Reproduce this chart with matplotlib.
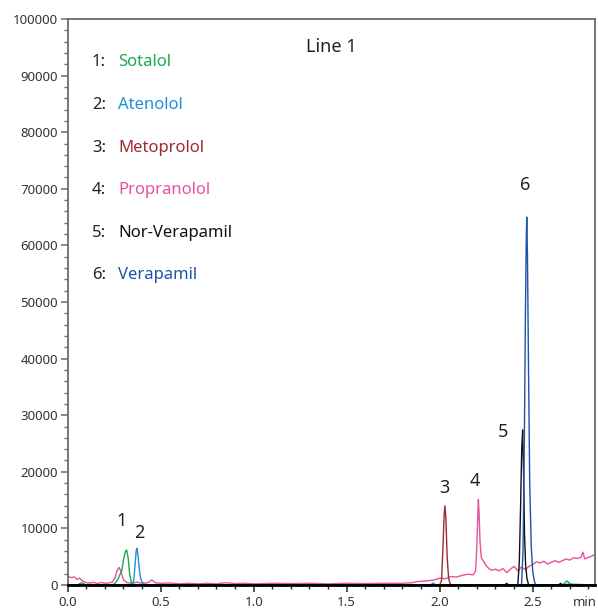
import matplotlib
matplotlib.use("Agg")
import matplotlib.pyplot as plt
from matplotlib.ticker import MultipleLocator

plt.rcParams['font.family'] = ['Noto Sans', 'DejaVu Sans']

# ---------------- data ----------------
compounds = ["Sotalol", "Atenolol", "Metoprolol", "Propranolol", "Nor-Verapamil", "Verapamil"]
colors = ["#1aa94b", "#1e90d8", "#9e2a2e", "#e8529c", "#111111", "#1f52a8"]
peak_labels = ["1", "2", "3", "4", "5", "6"]
label_t = [0.287, 0.384, 2.024, 2.190, 2.340, 2.458]
label_v = [11300, 9200, 17100, 18400, 27000, 70700]

sotalol_t = [0.0, 0.05, 0.075, 0.10, 0.24, 0.255, 0.27, 0.28, 0.29, 0.30, 0.31, 0.317,
             0.325, 0.333, 0.344, 0.36, 1.0, 2.0, 2.665, 2.675, 2.685, 2.695, 2.71, 2.835]
sotalol_v = [0, 0, 400, 0, 0, 300, 1000, 1800, 2400, 4500, 5900, 6200,
             4800, 2000, 200, 0, 0, 0, 0, 500, 700, 400, 0, 0]

atenolol_t = [0.0, 0.345, 0.355, 0.362, 0.368, 0.372, 0.378, 0.385, 0.392, 0.40, 0.41, 0.42,
              1.95, 1.965, 1.98, 2.6, 2.7, 2.835]
atenolol_v = [0, 0, 800, 3500, 6000, 6500, 5200, 2800, 1200, 500, 200, 0,
              0, 350, 0, 0, 150, 0]

metoprolol_t = [0.0, 2.0, 2.010, 2.018, 2.024, 2.028, 2.033, 2.040, 2.048, 2.058, 2.835]
metoprolol_v = [0, 0, 800, 7000, 12500, 14000, 12000, 5000, 1200, 0, 0]

propranolol_t = [0.0, 0.02, 0.035, 0.05, 0.065, 0.08, 0.10, 0.12, 0.14, 0.16, 0.18, 0.20,
                 0.22, 0.24, 0.255, 0.265, 0.276, 0.285, 0.30, 0.32, 0.35, 0.37, 0.40, 0.43,
                 0.453, 0.47, 0.50, 0.55, 0.60, 0.65, 0.70, 0.75, 0.80, 0.85, 0.90, 0.95,
                 1.0, 1.1, 1.2, 1.3, 1.4, 1.5, 1.6, 1.7, 1.8, 1.85, 1.88, 1.92, 1.95, 1.97,
                 2.0, 2.03, 2.06, 2.09, 2.12, 2.15, 2.18, 2.193, 2.200, 2.205, 2.208, 2.212,
                 2.217, 2.224, 2.235, 2.25, 2.265, 2.28, 2.30, 2.32, 2.34, 2.36, 2.38, 2.40,
                 2.42, 2.44, 2.46, 2.48, 2.50, 2.52, 2.54, 2.56, 2.58, 2.60, 2.62, 2.64,
                 2.66, 2.68, 2.70, 2.72, 2.74, 2.76, 2.77, 2.78, 2.80, 2.82, 2.835]
propranolol_v = [1500, 1300, 1450, 1000, 1200, 700, 400, 350, 450, 250, 450, 300,
                 350, 500, 1300, 2500, 3100, 2500, 900, 400, 300, 500, 300, 400,
                 900, 400, 300, 350, 200, 300, 200, 300, 200, 400, 250, 300,
                 200, 300, 250, 300, 200, 300, 250, 300, 300, 400, 600, 700, 800, 900,
                 1200, 1100, 1500, 1400, 1700, 1900, 1800, 2500, 7000, 12500, 15100, 12500,
                 7500, 4800, 4200, 3400, 2900, 2600, 2800, 2500, 2900, 2200, 2800, 3300,
                 2500, 3200, 2700, 3300, 3600, 4100, 3900, 4200, 3700, 4000, 4300, 4000,
                 4300, 4600, 4400, 4800, 4700, 4900, 5800, 4600, 4900, 5100, 5500]

norverapamil_t = [0.0, 2.35, 2.36, 2.37, 2.40, 2.42, 2.428, 2.435, 2.441, 2.446, 2.451,
                  2.456, 2.462, 2.469, 2.478, 2.49, 2.64, 2.65, 2.66, 2.835]
norverapamil_v = [0, 0, 300, 0, 0, 0, 4000, 14000, 24000, 27400, 20000,
                  9000, 3500, 1200, 0, 0, 0, 300, 0, 0]

verapamil_t = [0.0, 2.44, 2.448, 2.455, 2.461, 2.465, 2.468, 2.472, 2.477, 2.484, 2.492,
               2.500, 2.508, 2.516, 2.835]
verapamil_v = [0, 0, 6000, 25000, 48000, 60000, 65000, 58000, 40000, 18000, 7000,
               2500, 800, 0, 0]

series_t = [sotalol_t, atenolol_t, metoprolol_t, propranolol_t, norverapamil_t, verapamil_t]
series_v = [sotalol_v, atenolol_v, metoprolol_v, propranolol_v, norverapamil_v, verapamil_v]

x_max = 2.835
y_max = 100000

# ---------------- figure ----------------
W, H = 598, 609
fig = plt.figure(figsize=(W / 100, H / 100), dpi=100)
ax = fig.add_axes([67.7 / W, 1 - 585 / H, (595 - 67.7) / W, (585 - 19) / H])

draw_order = [3, 0, 1, 2, 4, 5]
for i in draw_order:
    ax.plot(series_t[i], series_v[i], color=colors[i], lw=1.0, zorder=2 + draw_order.index(i))

ax.set_xlim(0, x_max)
ax.set_ylim(0, y_max)

ax.xaxis.set_major_locator(MultipleLocator(0.5))
ax.xaxis.set_minor_locator(MultipleLocator(0.1))
ax.yaxis.set_major_locator(MultipleLocator(10000))
ax.yaxis.set_minor_locator(MultipleLocator(2000))
ax.xaxis.set_major_formatter(matplotlib.ticker.FormatStrFormatter('%.1f'))
ax.yaxis.set_major_formatter(matplotlib.ticker.FormatStrFormatter('%d'))

grey = "#6b6b6b"
for s in ["left", "top", "right"]:
    ax.spines[s].set_color(grey)
    ax.spines[s].set_linewidth(1.3)
ax.spines["bottom"].set_color("black")
ax.spines["bottom"].set_linewidth(2.0)
ax.spines["bottom"].set_zorder(10)

ax.tick_params(axis='both', which='major', direction='out', length=5, width=1.1,
               labelsize=9.5, labelcolor="#333333", color=grey, pad=2)
ax.tick_params(axis='both', which='minor', direction='out', length=3, width=1.0, color=grey)
ax.tick_params(axis='x', which='both', color="#222222")
ax.tick_params(axis='x', which='major', pad=3)

fig.text(597 / W, 1 - 603 / H, "min", ha='right', va='center', fontsize=9.5, color="#333333")

# peak numbers
for lab, t, v in zip(peak_labels, label_t, label_v):
    ax.text(t, v, lab, ha='center', va='center', fontsize=13, color="#222222", zorder=20)

# title inside plot
fig.text(331 / W, 1 - 47 / H, "Line 1", ha='center', va='center', fontsize=13, color="#222222")

# compound legend
row_y = [62, 105, 148, 190, 233, 275]
for k, (name, c, y) in enumerate(zip(compounds, colors, row_y)):
    fig.text(92 / W, 1 - y / H, f"{k + 1}:", ha='left', va='center', fontsize=12, color="#222222")
    fig.text(118 / W, 1 - y / H, name, ha='left', va='center', fontsize=12, color=c)

fig.savefig("out.png", dpi=100)
